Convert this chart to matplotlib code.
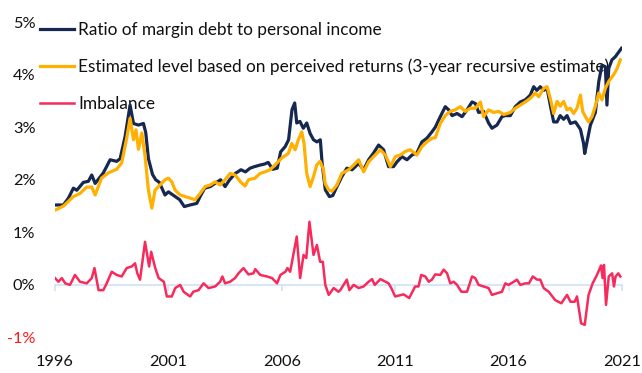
import numpy as np
import matplotlib
matplotlib.use("Agg")
import matplotlib.pyplot as plt

plt.rcParams['font.family'] = ['Lato', 'DejaVu Sans']

# Margin debt as a share of personal income (%), decimal years
debt_dates = [1996.04, 1996.37, 1996.59, 1996.81, 1996.96, 1997.25, 1997.47, 1997.62, 1997.77,
              1998.13, 1998.43, 1998.72, 1998.87, 1999.09, 1999.31, 1999.46, 1999.68, 1999.9,
              2000.0, 2000.12, 2000.3, 2000.44, 2000.6, 2000.85, 2001.0, 2001.2, 2001.5, 2001.7,
              2001.95, 2002.25, 2002.4, 2002.6, 2002.85, 2003.05, 2003.3, 2003.5, 2003.7, 2003.95,
              2004.2, 2004.4, 2004.6, 2004.8, 2005.05, 2005.25, 2005.4, 2005.6, 2005.8, 2005.95,
              2006.15, 2006.3, 2006.45, 2006.57, 2006.66, 2006.8, 2006.95, 2007.1, 2007.25, 2007.4,
              2007.55, 2007.7, 2007.78, 2007.92, 2008.1, 2008.25, 2008.4, 2008.65, 2008.87, 2009.1,
              2009.39, 2009.61, 2009.83, 2010.05, 2010.27, 2010.49, 2010.71, 2010.93, 2011.08, 2011.3,
              2011.52, 2011.74, 2011.96, 2012.18, 2012.4, 2012.62, 2012.77, 2012.99, 2013.21, 2013.36,
              2013.51, 2013.73, 2013.95, 2014.17, 2014.39, 2014.54, 2014.68, 2014.9, 2015.12, 2015.27,
              2015.49, 2015.71, 2015.86, 2016.08, 2016.3, 2016.52, 2016.74, 2016.96, 2017.11, 2017.25,
              2017.4, 2017.55, 2017.7, 2017.84, 2017.99, 2018.14, 2018.28, 2018.43, 2018.58, 2018.73,
              2018.95, 2019.17, 2019.31, 2019.36, 2019.61, 2019.83, 2019.98, 2020.12, 2020.27, 2020.34,
              2020.42, 2020.56, 2020.71, 2020.86, 2020.98]
debt_ratio = [1.52, 1.52, 1.65, 1.84, 1.80, 1.95, 1.97, 2.09, 1.93,
              2.13, 2.38, 2.35, 2.40, 2.82, 3.42, 3.07, 3.04, 3.07,
              2.90, 2.40, 2.10, 2.00, 1.95, 1.71, 1.77, 1.71, 1.62, 1.49,
              1.52, 1.55, 1.68, 1.84, 1.87, 1.93, 2.00, 1.87, 2.00, 2.12,
              2.19, 2.15, 2.22, 2.25, 2.28, 2.30, 2.33, 2.20, 2.22, 2.53,
              2.63, 2.76, 3.33, 3.46, 3.08, 3.11, 2.98, 3.08, 2.88, 2.76,
              2.72, 2.76, 2.31, 1.81, 1.68, 1.70, 1.84, 2.06, 2.22, 2.19,
              2.31, 2.19, 2.38, 2.51, 2.66, 2.57, 2.25, 2.25, 2.34, 2.44,
              2.38, 2.47, 2.51, 2.72, 2.79, 2.91, 3.00, 3.20, 3.39, 3.33,
              3.22, 3.26, 3.20, 3.33, 3.48, 3.45, 3.28, 3.30, 3.08, 2.98,
              3.04, 3.20, 3.22, 3.22, 3.39, 3.48, 3.52, 3.61, 3.77, 3.70,
              3.77, 3.70, 3.74, 3.42, 3.10, 3.10, 3.22, 3.15, 3.22, 3.07,
              3.10, 2.96, 2.69, 2.50, 3.04, 3.28, 3.87, 4.18, 4.15, 3.42,
              4.12, 4.28, 4.34, 4.43, 4.50]

# Estimated level based on perceived returns (%)
est_dates = [1996.04, 1996.37, 1996.81, 1997.1, 1997.4, 1997.62, 1997.77, 1998.05, 1998.35,
             1998.72, 1998.94, 1999.16, 1999.31, 1999.46, 1999.57, 1999.68, 1999.83, 1999.97,
             2000.12, 2000.27, 2000.41, 2000.56, 2000.7, 2000.85, 2001.0, 2001.15, 2001.3, 2001.52,
             2001.74, 2001.96, 2002.18, 2002.4, 2002.62, 2002.84, 2003.06, 2003.28, 2003.5, 2003.72,
             2003.94, 2004.2, 2004.38, 2004.53, 2004.82, 2005.04, 2005.26, 2005.48, 2005.7, 2005.99,
             2006.29, 2006.44, 2006.59, 2006.73, 2006.88, 2006.98, 2007.1, 2007.25, 2007.4, 2007.54,
             2007.69, 2007.84, 2007.91, 2008.06, 2008.21, 2008.43, 2008.65, 2008.95, 2009.24, 2009.39,
             2009.61, 2009.83, 2010.05, 2010.35, 2010.57, 2010.79, 2011.01, 2011.23, 2011.45, 2011.67,
             2011.96, 2012.18, 2012.4, 2012.63, 2012.77, 2012.99, 2013.21, 2013.43, 2013.65, 2013.87,
             2014.09, 2014.31, 2014.54, 2014.76, 2014.9, 2015.12, 2015.34, 2015.57, 2015.79, 2016.08,
             2016.3, 2016.52, 2016.74, 2016.96, 2017.18, 2017.33, 2017.55, 2017.7, 2017.84, 2017.99,
             2018.14, 2018.28, 2018.43, 2018.58, 2018.73, 2018.87, 2019.02, 2019.17, 2019.27, 2019.39,
             2019.53, 2019.68, 2019.83, 2019.98, 2020.12, 2020.27, 2020.42, 2020.64, 2020.79, 2020.93]
est_level = [1.43, 1.50, 1.68, 1.74, 1.86, 1.86, 1.71, 2.03, 2.13,
             2.20, 2.32, 2.79, 3.17, 2.76, 2.95, 2.58, 2.89, 2.45,
             1.80, 1.46, 1.80, 1.87, 1.93, 2.00, 2.03, 1.96, 1.80, 1.71,
             1.68, 1.65, 1.62, 1.74, 1.87, 1.90, 1.96, 1.90, 2.00, 2.12,
             2.09, 1.95, 1.88, 2.00, 2.03, 2.12, 2.15, 2.19, 2.28, 2.41,
             2.50, 2.69, 2.57, 2.76, 2.91, 2.70, 2.12, 1.87, 2.06, 2.28,
             2.35, 2.19, 1.93, 1.81, 1.78, 1.90, 2.12, 2.19, 2.31, 2.38,
             2.15, 2.34, 2.44, 2.57, 2.47, 2.25, 2.44, 2.47, 2.54, 2.57,
             2.47, 2.63, 2.72, 2.79, 2.80, 3.07, 3.22, 3.30, 3.33, 3.39,
             3.30, 3.36, 3.36, 3.48, 3.20, 3.33, 3.28, 3.30, 3.24, 3.28,
             3.36, 3.42, 3.48, 3.55, 3.65, 3.58, 3.74, 3.77, 3.55, 3.26,
             3.49, 3.40, 3.49, 3.33, 3.36, 3.26, 3.36, 3.61, 3.30, 3.20,
             3.10, 3.20, 3.40, 3.65, 3.52, 3.74, 3.87, 4.00, 4.12, 4.28]

# Imbalance between actual and estimated level (pp)
imb_dates = [1996.0, 1996.15, 1996.3, 1996.45, 1996.66, 1996.88, 1997.1, 1997.4, 1997.62, 1997.74,
             1997.92, 1998.13, 1998.28, 1998.5, 1998.72, 1998.94, 1999.16, 1999.38, 1999.53, 1999.63,
             1999.75, 1999.97, 2000.15, 2000.24, 2000.42, 2000.57, 2000.8, 2000.93, 2001.15, 2001.3,
             2001.52, 2001.67, 2001.96, 2002.1, 2002.33, 2002.55, 2002.77, 2003.06, 2003.28, 2003.38,
             2003.5, 2003.72, 2003.94, 2004.09, 2004.31, 2004.53, 2004.75, 2004.83, 2005.05, 2005.35,
             2005.57, 2005.79, 2005.94, 2006.16, 2006.25, 2006.37, 2006.66, 2006.81, 2006.96, 2007.08,
             2007.22, 2007.4, 2007.55, 2007.69, 2007.81, 2007.92, 2008.07, 2008.29, 2008.5, 2008.58,
             2008.87, 2008.98, 2009.17, 2009.39, 2009.61, 2009.83, 2009.98, 2010.1, 2010.35, 2010.57,
             2010.71, 2010.83, 2011.0, 2011.37, 2011.62, 2011.88, 2012.03, 2012.15, 2012.33, 2012.48,
             2012.62, 2012.77, 2012.99, 2013.14, 2013.29, 2013.43, 2013.58, 2013.73, 2013.92, 2014.17,
             2014.39, 2014.53, 2014.68, 2014.9, 2015.12, 2015.27, 2015.49, 2015.71, 2015.86, 2016.0,
             2016.23, 2016.37, 2016.52, 2016.74, 2016.9, 2017.07, 2017.26, 2017.4, 2017.55, 2017.77,
             2018.06, 2018.33, 2018.58, 2018.73, 2018.92, 2019.02, 2019.2, 2019.36, 2019.53, 2019.71,
             2019.9, 2020.08, 2020.15, 2020.21, 2020.3, 2020.42, 2020.57, 2020.65, 2020.72, 2020.84,
             2020.93]
imbalance = [0.13, 0.06, 0.13, 0.03, 0.00, 0.19, 0.06, 0.03, 0.13, 0.32,
             -0.10, -0.10, 0.03, 0.25, 0.19, 0.16, 0.32, 0.35, 0.41, 0.22,
             0.10, 0.82, 0.35, 0.63, 0.32, 0.13, 0.06, -0.22, -0.22, -0.06,
             0.00, -0.13, -0.22, -0.13, -0.10, 0.03, -0.06, -0.03, 0.06, 0.16,
             0.03, 0.06, 0.13, 0.22, 0.32, 0.20, 0.22, 0.30, 0.19, 0.16,
             0.13, 0.03, 0.19, 0.25, 0.32, 0.25, 0.92, 0.13, 0.57, 0.51,
             1.20, 0.57, 0.76, 0.44, 0.44, 0.00, -0.19, -0.06, -0.13, -0.10,
             0.10, -0.10, 0.00, -0.06, -0.03, 0.06, 0.11, 0.00, 0.11, 0.06,
             0.03, -0.06, -0.22, -0.18, -0.25, -0.03, -0.03, 0.19, 0.16, 0.06,
             0.10, 0.20, 0.19, 0.29, 0.22, 0.03, 0.06, 0.00, -0.13, -0.13,
             0.16, 0.13, 0.00, -0.03, -0.06, -0.19, -0.16, -0.13, 0.03, 0.00,
             0.06, 0.10, 0.00, 0.03, 0.03, 0.16, 0.10, 0.10, -0.06, -0.13,
             -0.29, -0.35, -0.19, -0.32, -0.32, -0.22, -0.73, -0.76, -0.19, 0.03,
             0.19, 0.37, 0.13, 0.38, -0.38, 0.16, 0.22, -0.03, 0.16, 0.22,
             0.16]

year_ticks = [1996, 2001, 2006, 2011, 2016, 2021]
pct_ticks = [-1, 0, 1, 2, 3, 4, 5]

navy = '#16284f'
gold = '#ffb000'
pink = '#f72a5c'
pale = '#cfe2f7'

fig = plt.figure(figsize=(6.42, 3.73), dpi=100)
ax = fig.add_axes([0.0857, 0.06, 0.883, 0.888])

ax.plot(debt_dates, debt_ratio, color=navy, lw=2.3, label='Ratio of margin debt to personal income')
ax.plot(est_dates, est_level, color=gold, lw=2.3,
        label='Estimated level based on perceived returns (3-year recursive estimate)')
ax.plot(imb_dates, imbalance, color=pink, lw=1.8, label='Imbalance')

ax.set_xlim(1996, 2021)
ax.set_ylim(-1.25, 5.05)

for side in ['top', 'right', 'left']:
    ax.spines[side].set_visible(False)
ax.spines['bottom'].set_position(('data', 0))
ax.spines['bottom'].set_color(pale)
ax.spines['bottom'].set_linewidth(1.2)
ax.spines['bottom'].set_zorder(0.5)

ax.set_xticks(year_ticks)
ax.tick_params(axis='x', length=4, width=1.2, color=pale, labelbottom=False)

# year labels sit at the bottom edge, not on the zero line
sec = ax.secondary_xaxis('bottom')
sec.set_xticks(year_ticks)
sec.spines['bottom'].set_visible(False)
sec.tick_params(length=0, pad=3, labelsize=11.8, labelcolor='#111111')

ax.set_yticks(pct_ticks)
ax.set_yticklabels([f'{t}%' for t in pct_ticks])
ax.tick_params(axis='y', length=0, pad=14, labelsize=11.8, labelcolor='#111111')
for lab, t in zip(ax.get_yticklabels(), pct_ticks):
    if t < 0:
        lab.set_color('#ff1a1a')

leg = ax.legend(loc='upper left', bbox_to_anchor=(40 / 642, 1 - 22 / 373),
                bbox_transform=fig.transFigure, frameon=False, fontsize=12.4,
                handlelength=2.0, handletextpad=0.2, borderpad=0, borderaxespad=0,
                labelspacing=1.2)
leg.set_zorder(1)
for t in leg.get_texts():
    t.set_color('#111111')

fig.savefig('out.png', dpi=100)
